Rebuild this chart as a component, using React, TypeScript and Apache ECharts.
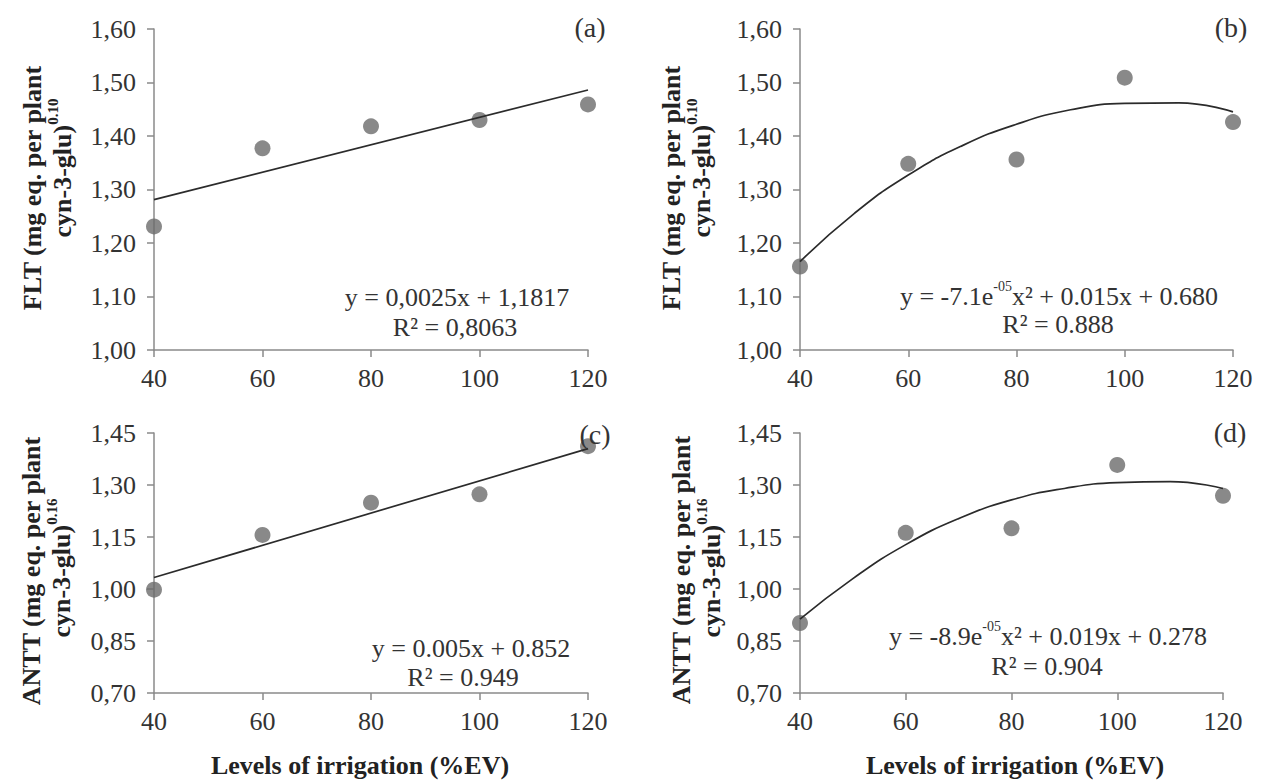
import React, { useEffect, useRef } from "react";
import * as echarts from "echarts";

// ---------- data ----------
const irrigation = [40, 60, 80, 100, 120];
const fitEnds = [40, 120];
const curveX = [40, 50, 60, 70, 80, 90, 100, 110, 120];

// (a) FLT, linear fit
const fltA = [1.231, 1.377, 1.418, 1.43, 1.459];
const fltAFit = [1.281, 1.486];
// (b) FLT, quadratic fit
const fltB = [1.156, 1.348, 1.356, 1.509, 1.426];
const fltBFit = [1.165, 1.255, 1.327, 1.382, 1.422, 1.449, 1.461, 1.462, 1.445];
// (c) ANTT, linear fit
const anttC = [0.998, 1.156, 1.249, 1.273, 1.412];
const anttCFit = [1.033, 1.405];
// (d) ANTT, quadratic fit
const anttD = [0.902, 1.162, 1.175, 1.358, 1.269];
const anttDFit = [0.913, 1.03, 1.128, 1.203, 1.257, 1.29, 1.307, 1.31, 1.29];

const xTicks = { min: 40, max: 120, step: 20 };
const fltTicks = { min: 1.0, max: 1.6, step: 0.1 };
const anttTicks = { min: 0.7, max: 1.45, step: 0.15 };

const FONT = "Liberation Serif";
const AXIS_COLOR = "#8a8a8a";
const TEXT_COLOR = "#333";
const TITLE_COLOR = "#222";
const DOT_COLOR = "#6b6b6b";
const LINE_COLOR = "#2b2b2b";

const pair = (xs: number[], ys: number[]) => xs.map((x, i) => [x, ys[i]]);

export default function App() {
  const ref = useRef<HTMLDivElement>(null);

  useEffect(() => {
    if (!ref.current) return;
    const chart = echarts.init(ref.current, undefined, { renderer: "svg" });

    const grids = [
      { left: 154, top: 29, width: 434, height: 321 },
      { left: 800, top: 29, width: 433, height: 321 },
      { left: 154, top: 433, width: 434, height: 260 },
      { left: 800, top: 433, width: 423, height: 260 },
    ];

    const xAxis = grids.map((_, i) => ({
      type: "value",
      gridIndex: i,
      min: xTicks.min,
      max: xTicks.max,
      interval: xTicks.step,
      splitLine: { show: false },
      axisLine: { show: true, lineStyle: { color: AXIS_COLOR, width: 1.5 } },
      axisTick: { show: true, length: 7, lineStyle: { color: AXIS_COLOR, width: 1.5 } },
      axisLabel: { fontFamily: FONT, fontSize: 26, color: TEXT_COLOR, margin: 15 },
    }));

    const yAxis = grids.map((_, i) => {
      const t = i < 2 ? fltTicks : anttTicks;
      return {
        type: "value",
        gridIndex: i,
        min: t.min,
        max: t.max,
        interval: t.step,
        splitLine: { show: false },
        axisLine: { show: true, lineStyle: { color: AXIS_COLOR, width: 1.5 } },
        axisTick: { show: true, length: 7, lineStyle: { color: AXIS_COLOR, width: 1.5 } },
        axisLabel: {
          fontFamily: FONT,
          fontSize: 26,
          color: TEXT_COLOR,
          margin: 18,
          formatter: (v: number) => v.toFixed(2).replace(".", ","),
        },
      };
    });

    const scatter = (i: number, ys: number[]) => ({
      type: "scatter",
      xAxisIndex: i,
      yAxisIndex: i,
      data: pair(irrigation, ys),
      symbol: "circle",
      symbolSize: 16,
      itemStyle: { color: DOT_COLOR },
      z: 2,
    });
    const fit = (i: number, xs: number[], ys: number[], smooth: boolean) => ({
      type: "line",
      xAxisIndex: i,
      yAxisIndex: i,
      data: pair(xs, ys),
      smooth,
      showSymbol: false,
      symbol: "none",
      lineStyle: { color: LINE_COLOR, width: 1.7 },
      z: 3,
    });

    const txt = (x: number, y: number, text: string, opts: any = {}) => ({
      type: "text",
      x,
      y,
      rotation: opts.rotation || 0,
      style: {
        text,
        fontFamily: FONT,
        fontSize: opts.fontSize || 26,
        fontWeight: opts.bold ? "bold" : "normal",
        fill: opts.fill || TEXT_COLOR,
        align: "center",
        verticalAlign: "middle",
        textAlign: "center",
        textVerticalAlign: "middle",
        rich: opts.rich,
      },
      z: 10,
    });

    const supRich = (bold: boolean, size: number) => ({
      m: {
        fontFamily: FONT,
        fontSize: 26,
        fontWeight: bold ? "bold" : "normal",
        fill: bold ? TITLE_COLOR : TEXT_COLOR,
        lineHeight: 30,
        verticalAlign: "bottom",
      },
      s: {
        fontFamily: FONT,
        fontSize: size,
        fontWeight: bold ? "bold" : "normal",
        fill: bold ? TITLE_COLOR : TEXT_COLOR,
        lineHeight: 30,
        verticalAlign: "top",
      },
    });

    const R = Math.PI / 2;
    const title = { rotation: R, bold: true, fill: TITLE_COLOR };
    const graphic = [
      // y titles
      txt(32, 188, "FLT (mg eq. per plant", title),
      txt(60, 168, "{m|cyn-3-glu)}{s|0.10}", { ...title, rich: supRich(true, 15) }),
      txt(671, 188, "FLT (mg eq. per plant", title),
      txt(699, 168, "{m|cyn-3-glu)}{s|0.10}", { ...title, rich: supRich(true, 15) }),
      txt(31, 571, "ANTT (mg eq. per plant", title),
      txt(59, 568, "{m|cyn-3-glu)}{s|0.16}", { ...title, rich: supRich(true, 15) }),
      txt(681, 570, "ANTT (mg eq. per plant", title),
      txt(709, 568, "{m|cyn-3-glu)}{s|0.16}", { ...title, rich: supRich(true, 15) }),
      // x titles
      txt(360, 765, "Levels of irrigation (%EV)", { bold: true, fill: TITLE_COLOR }),
      txt(1015, 765, "Levels of irrigation (%EV)", { bold: true, fill: TITLE_COLOR }),
      // panel letters
      txt(590, 27, "(a)", { fontSize: 28 }),
      txt(1231, 27, "(b)", { fontSize: 28 }),
      txt(595, 434, "(c)", { fontSize: 28 }),
      txt(1230, 432, "(d)", { fontSize: 28 }),
      // equations
      txt(457, 297, "y = 0,0025x + 1,1817"),
      txt(455, 327, "R² = 0,8063"),
      txt(1059, 294, "{m|y = -7.1e}{s|-05}{m|x² + 0.015x + 0.680}", { rich: supRich(false, 14) }),
      txt(1058, 324, "R² = 0.888"),
      txt(471, 648, "y = 0.005x + 0.852"),
      txt(463, 677, "R² = 0.949"),
      txt(1048, 634, "{m|y = -8.9e}{s|-05}{m|x² + 0.019x + 0.278}", { rich: supRich(false, 14) }),
      txt(1047, 666, "R² = 0.904"),
    ];

    chart.setOption({
      animation: false,
      backgroundColor: "#fff",
      grid: grids.map((g) => ({ ...g, containLabel: false })),
      xAxis,
      yAxis,
      series: [
        scatter(0, fltA),
        fit(0, fitEnds, fltAFit, false),
        scatter(1, fltB),
        fit(1, curveX, fltBFit, true),
        scatter(2, anttC),
        fit(2, fitEnds, anttCFit, false),
        scatter(3, anttD),
        fit(3, curveX, anttDFit, true),
      ],
      graphic,
    });

    return () => chart.dispose();
  }, []);

  return (
    <div
      ref={ref}
      style={{ position: "absolute", left: 0, top: 0, width: 1263, height: 782, background: "#fff" }}
    />
  );
}
